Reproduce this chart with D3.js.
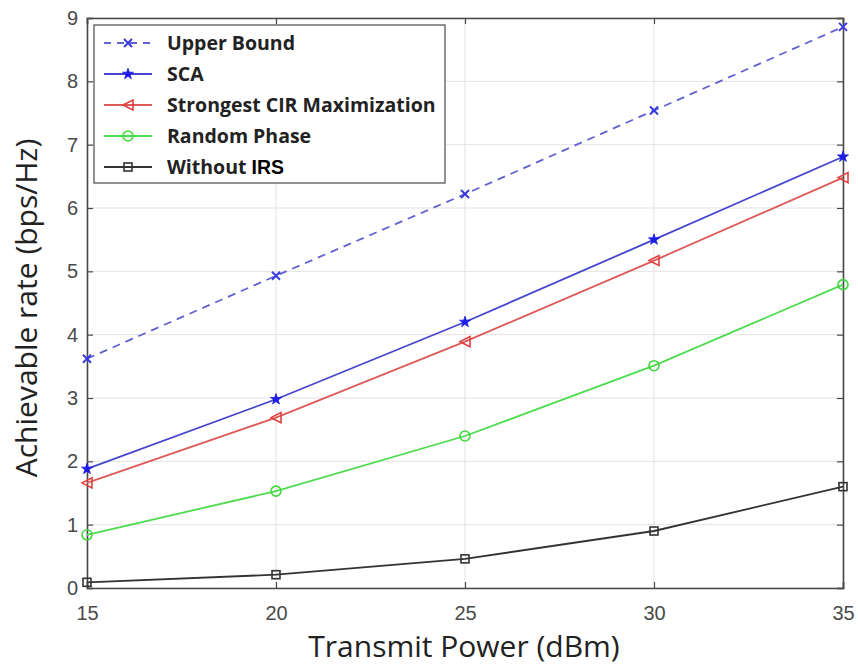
<!DOCTYPE html>
<html>
<head>
<meta charset="utf-8">
<script src="https://cdn.jsdelivr.net/npm/d3@7"></script>
<style>
  html, body { margin: 0; padding: 0; background: #fff; }
  svg { display: block; }
</style>
</head>
<body>
<svg id="chart" width="858" height="666"></svg>
<script>
// Transmit power (dBm)
const powers = [15, 20, 25, 30, 35];

// Achievable rate (bps/Hz) for each scheme
const upperBound = [3.62, 4.93, 6.22, 7.54, 8.86];
const sca        = [1.88, 2.98, 4.20, 5.50, 6.81];
const strongest  = [1.66, 2.69, 3.89, 5.17, 6.48];
const randomPh   = [0.84, 1.53, 2.40, 3.51, 4.79];
const withoutIrs = [0.09, 0.21, 0.46, 0.90, 1.60];

const xTicks = [15, 20, 25, 30, 35];
const yTicks = [0, 1, 2, 3, 4, 5, 6, 7, 8, 9];

const seriesNames = ["Upper Bound", "SCA", "Strongest CIR Maximization", "Random Phase", "Without IRS"];

const styles = [
  { data: upperBound, line: "#6262cf", mark: "#3a3ae0", dash: "8,6", marker: "x" },
  { data: sca,        line: "#4646cc", mark: "#1c1ce6", dash: null,  marker: "star" },
  { data: strongest,  line: "#de5a5a", mark: "#e04040", dash: null,  marker: "tri" },
  { data: randomPh,   line: "#4ddc4d", mark: "#3fd83f", dash: null,  marker: "circle" },
  { data: withoutIrs, line: "#333333", mark: "#333333", dash: null,  marker: "square" }
];

const svg = d3.select("#chart");
const plotL = 87, plotR = 843, plotT = 18, plotB = 588;

const x = d3.scaleLinear().domain([15, 35]).range([plotL, plotR]);
const y = d3.scaleLinear().domain([0, 9]).range([plotB, plotT]);

// grid
const grid = svg.append("g");
grid.selectAll("line.v").data(xTicks).join("line")
  .attr("x1", d => x(d)).attr("x2", d => x(d))
  .attr("y1", plotT).attr("y2", plotB)
  .attr("stroke", "#e3e3e3").attr("stroke-width", 1);
grid.selectAll("line.h").data(yTicks).join("line")
  .attr("x1", plotL).attr("x2", plotR)
  .attr("y1", d => y(d)).attr("y2", d => y(d))
  .attr("stroke", "#e3e3e3").attr("stroke-width", 1);

// axes
const axisB = svg.append("g").attr("transform", `translate(0,${plotB})`)
  .call(d3.axisBottom(x).tickValues(xTicks).tickSize(-6).tickPadding(18).tickFormat(d3.format("d")));
const axisT = svg.append("g").attr("transform", `translate(0,${plotT})`)
  .call(d3.axisTop(x).tickValues(xTicks).tickSize(-6).tickFormat(""));
const axisL = svg.append("g").attr("transform", `translate(${plotL},0)`)
  .call(d3.axisLeft(y).tickValues(yTicks).tickSize(-6).tickPadding(9).tickFormat(d3.format("d")));
const axisR = svg.append("g").attr("transform", `translate(${plotR},0)`)
  .call(d3.axisRight(y).tickValues(yTicks).tickSize(-6).tickFormat(""));

[axisB, axisT, axisL, axisR].forEach(a => {
  a.select(".domain").attr("stroke", "#4a4a4a").attr("stroke-width", 1.6);
  a.selectAll(".tick line").attr("stroke", "#4a4a4a").attr("stroke-width", 1.2);
  a.selectAll(".tick text")
    .attr("font-family", "'Liberation Sans', Arial, sans-serif")
    .attr("font-size", 20).attr("fill", "#4a4a4a");
});

// marker shapes
function drawMarker(g, type, cx, cy, color) {
  if (type === "x") {
    const s = 4;
    g.append("path")
      .attr("d", `M${cx - s},${cy - s}L${cx + s},${cy + s}M${cx - s},${cy + s}L${cx + s},${cy - s}`)
      .attr("stroke", color).attr("stroke-width", 2).attr("fill", "none");
  } else if (type === "star") {
    g.append("path").attr("d", d3.symbol(d3.symbolStar, 38)())
      .attr("transform", `translate(${cx},${cy})`)
      .attr("fill", color).attr("stroke", color).attr("stroke-width", 0.8);
  } else if (type === "tri") {
    const s = 5;
    g.append("path")
      .attr("d", `M${cx - s},${cy}L${cx + s},${cy - s}L${cx + s},${cy + s}Z`)
      .attr("fill", "none").attr("stroke", color).attr("stroke-width", 1.6);
  } else if (type === "circle") {
    g.append("circle").attr("cx", cx).attr("cy", cy).attr("r", 5)
      .attr("fill", "none").attr("stroke", color).attr("stroke-width", 1.6);
  } else if (type === "square") {
    g.append("rect").attr("x", cx - 4).attr("y", cy - 4).attr("width", 8).attr("height", 8)
      .attr("fill", "none").attr("stroke", color).attr("stroke-width", 1.6);
  }
}

// series
const line = d3.line().x((d, i) => x(powers[i])).y(d => y(d));
styles.forEach(s => {
  const g = svg.append("g");
  g.append("path").datum(s.data).attr("d", line)
    .attr("fill", "none").attr("stroke", s.line).attr("stroke-width", 1.8)
    .attr("stroke-dasharray", s.dash);
  s.data.forEach((v, i) => drawMarker(g, s.marker, x(powers[i]), y(v), s.mark));
});

// legend
const lg = svg.append("g");
lg.append("rect").attr("x", 94).attr("y", 25).attr("width", 351).attr("height", 158)
  .attr("fill", "#fff").attr("stroke", "#4a4a4a").attr("stroke-width", 1.2);
const rowY = [43, 74, 105, 136, 167];
styles.forEach((s, i) => {
  const yy = rowY[i];
  lg.append("line").attr("x1", 104).attr("x2", 152).attr("y1", yy).attr("y2", yy)
    .attr("stroke", s.line).attr("stroke-width", 1.8).attr("stroke-dasharray", s.dash ? "7,6" : null);
  drawMarker(lg, s.marker, 128, yy, s.mark);
  const t = lg.append("text").attr("x", 167).attr("y", yy + 7)
    .attr("font-family", "'Open Sans', sans-serif").attr("font-weight", 700)
    .attr("font-size", 19.5).attr("fill", "#222");
  if (i === 4) {
    t.append("tspan").text("Without ");
    t.append("tspan").attr("font-family", "'Liberation Sans', Arial, sans-serif")
      .attr("font-weight", 700).attr("fill", "#000").text("IRS");
  } else {
    t.text(seriesNames[i]);
  }
});

// axis titles
svg.append("text")
  .attr("x", 464).attr("y", 657).attr("text-anchor", "middle")
  .attr("font-family", "'Open Sans', sans-serif").attr("font-size", 30).attr("fill", "#222")
  .text("Transmit Power (dBm)");
svg.append("text")
  .attr("transform", "translate(37,308) rotate(-90)").attr("text-anchor", "middle")
  .attr("font-family", "'Open Sans', sans-serif").attr("font-size", 30).attr("fill", "#222")
  .text("Achievable rate (bps/Hz)");
</script>
</body>
</html>
